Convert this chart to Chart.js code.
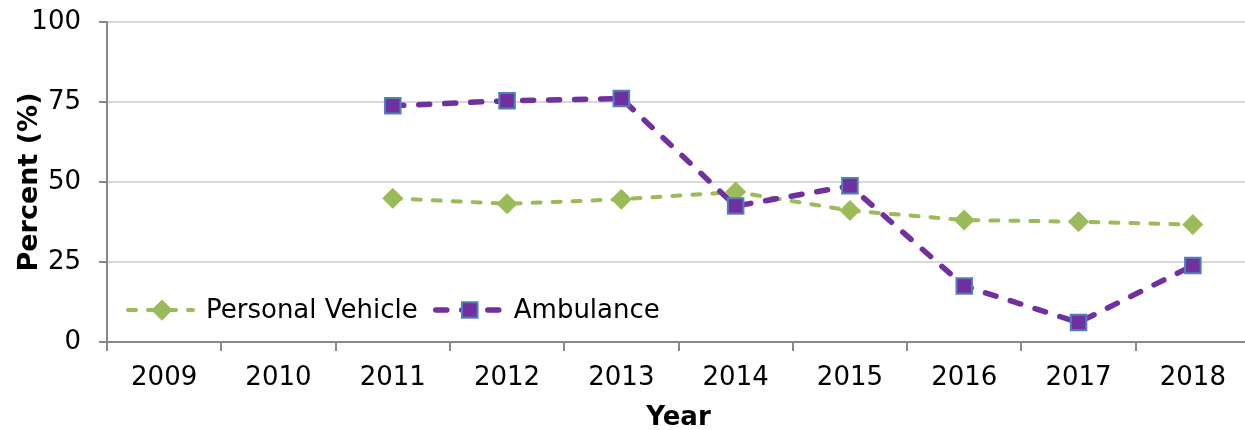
<!DOCTYPE html>
<html>
<head>
<meta charset="utf-8">
<script src="https://cdn.jsdelivr.net/npm/chart.js@4.4.0/dist/chart.umd.min.js"></script>
<style>
  body { margin: 0; background: #fff; overflow: hidden; }
  #wrap { width: 1263px; height: 430px; }
</style>
</head>
<body>
<div id="wrap"><canvas id="myChart"></canvas></div>
<script>
// data
var years = ["2009", "2010", "2011", "2012", "2013", "2014", "2015", "2016", "2017", "2018"];
var personalVehicle = [null, null, 44.9, 43.2, 44.6, 46.9, 41.1, 38.1, 37.6, 36.7];
var ambulance = [null, null, 73.8, 75.4, 76.1, 42.5, 48.8, 17.5, 6.1, 23.9];
var yTicks = [0, 25, 50, 75, 100];

var FONT = "'DejaVu Sans', Verdana, sans-serif";

// legend drawn inside the plot, bottom left
var insideLegend = {
	id: 'insideLegend',
	afterDraw: function(chart) {
		var ctx = chart.ctx;
		var area = chart.chartArea;
		var y = area.bottom - 32;
		var x = area.left + 21;
		ctx.save();
		ctx.font = "26px " + FONT;
		ctx.textBaseline = 'middle';
		chart.data.datasets.forEach(function(ds) {
			ctx.strokeStyle = ds.borderColor;
			ctx.lineWidth = ds.borderWidth;
			ctx.lineCap = 'round';
			ctx.setLineDash(ds.borderDash);
			ctx.beginPath();
			ctx.moveTo(x, y);
			ctx.lineTo(x + 65, y);
			ctx.stroke();
			ctx.setLineDash([]);
			ctx.fillStyle = ds.pointBackgroundColor;
			ctx.strokeStyle = ds.pointBorderColor;
			ctx.lineWidth = ds.pointBorderWidth;
			Chart.helpers.drawPoint(ctx, {
				pointStyle: ds.pointStyle,
				radius: ds.pointRadius,
				borderWidth: ds.pointBorderWidth
			}, x + 34, y);
			ctx.fillStyle = '#000';
			ctx.fillText(ds.label, x + 78, y + 1);
			x += 78 + ctx.measureText(ds.label).width + 18;
		});
		ctx.restore();
	}
};

var ctx = document.getElementById('myChart');

var myChart = new Chart(ctx, {
	type: 'line',
	data: {
		labels: years,
		datasets: [
			{
				label: "Personal Vehicle",
				data: personalVehicle,
				borderColor: "#9bbb59",
				backgroundColor: "#9bbb59",
				borderWidth: 4,
				borderDash: [8, 12],
				borderCapStyle: 'round',
				pointStyle: 'rectRot',
				pointRadius: 10,
				pointBackgroundColor: "#9bbb59",
				pointBorderColor: "#9bbb59",
				pointBorderWidth: 1,
				fill: false,
				tension: 0,
				order: 1
			},
			{
				label: "Ambulance",
				data: ambulance,
				borderColor: "#7030a0",
				backgroundColor: "#7030a0",
				borderWidth: 5.5,
				borderDash: [11, 15],
				borderCapStyle: 'round',
				pointStyle: 'rect',
				pointRadius: 11,
				pointBackgroundColor: "#7030a0",
				pointBorderColor: "#4f81bd",
				pointBorderWidth: 2,
				fill: false,
				tension: 0,
				order: 0
			}
		]
	},
	options: {
		responsive: true,
		maintainAspectRatio: false,
		animation: false,
		layout: { padding: { top: 22, right: 0, left: 0, bottom: 0 } },
		plugins: {
			legend: { display: false },
			tooltip: { enabled: false }
		},
		scales: {
			x: {
				offset: true,
				afterFit: function(scale) {
					scale.height = 88;
					scale.paddingLeft = 0;
					scale.paddingRight = 0;
				},
				grid: {
					offset: true,
					drawOnChartArea: false,
					drawTicks: true,
					tickLength: 9,
					tickColor: '#888',
					lineWidth: 2
				},
				border: { color: '#888', width: 2 },
				ticks: { color: '#000', font: { family: FONT, size: 26 }, padding: 12, maxRotation: 0 },
				title: { display: true, text: 'Year', color: '#000', font: { family: FONT, size: 26, weight: 'bold' }, padding: { top: 0, bottom: -4 } }
			},
			y: {
				min: 0,
				max: 100,
				afterFit: function(scale) {
					scale.width = 107;
					scale.paddingTop = 0;
					scale.paddingBottom = 0;
				},
				afterBuildTicks: function(scale) {
					scale.ticks = yTicks.map(function(v) { return { value: v }; });
				},
				grid: {
					color: '#d9d9d9',
					lineWidth: 2,
					tickLength: 8,
					tickColor: '#888'
				},
				border: { color: '#888', width: 2 },
				ticks: { color: '#000', font: { family: FONT, size: 26 }, padding: 18 },
				title: { display: true, text: 'Percent (%)', color: '#000', font: { family: FONT, size: 27, weight: 'bold' }, padding: { top: 14, bottom: 0 } }
			}
		}
	},
	plugins: [insideLegend]
});
</script>
</body>
</html>
